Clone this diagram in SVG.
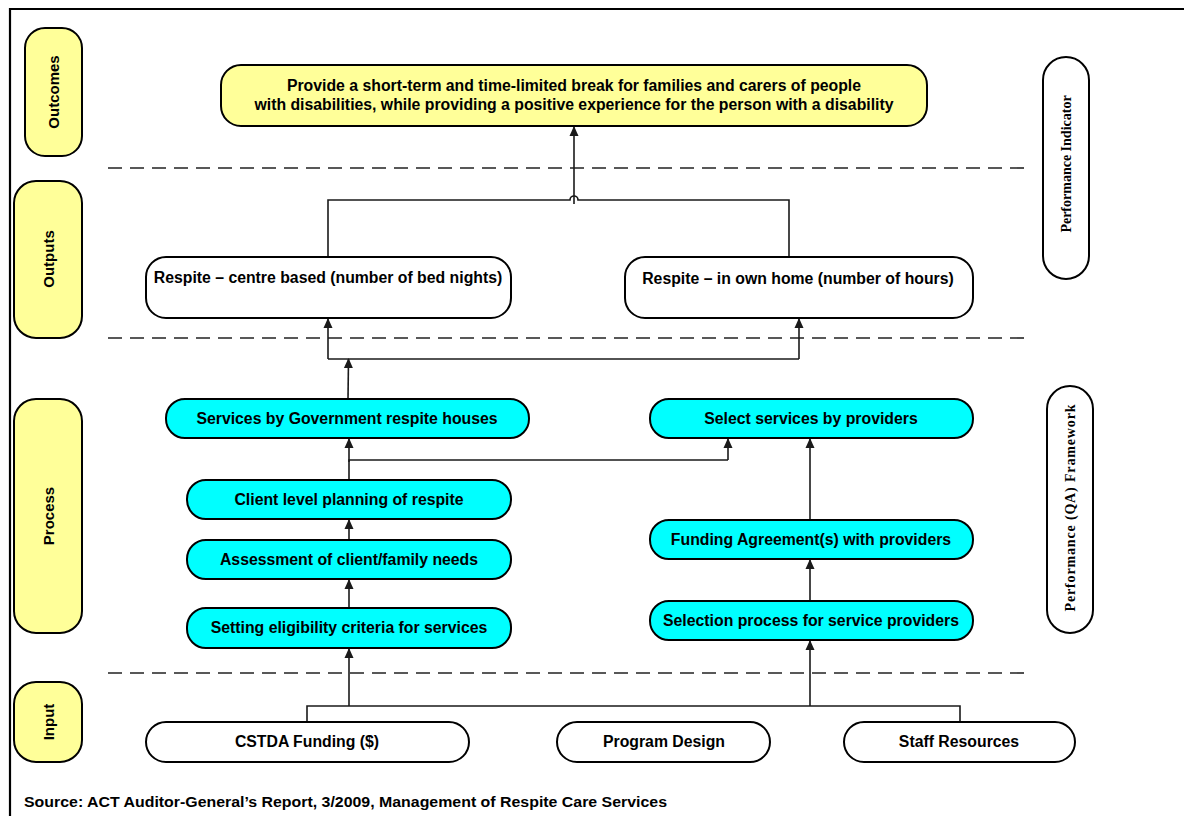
<svg xmlns="http://www.w3.org/2000/svg" width="1184" height="816" viewBox="0 0 1184 816">
<defs>
<marker id="ah" markerWidth="10" markerHeight="10" refX="9" refY="5" orient="auto" markerUnits="userSpaceOnUse">
<path d="M0,0.5 L10,5 L0,9.5 Z" fill="#1a1a1a"/>
</marker>
</defs>
<style>
.frame{stroke:#000;stroke-width:2.2;fill:none}
.lbl{fill:#ffff99;stroke:#000;stroke-width:2}
.yel{fill:#ffff99;stroke:#000;stroke-width:2}
.cy{fill:#00ffff;stroke:#000;stroke-width:2}
.wh{fill:#fff;stroke:#000;stroke-width:2}
.t{font-family:"Liberation Sans",Arial,sans-serif;font-weight:bold;font-size:15.8px;fill:#000;text-anchor:middle}
.tl{font-family:"Liberation Sans",Arial,sans-serif;font-weight:bold;font-size:15px;fill:#000;text-anchor:middle}
.ts{font-family:"Liberation Serif","Times New Roman",serif;font-weight:bold;font-size:14px;fill:#000;text-anchor:middle}
.dash{stroke:#222;stroke-width:1.6;stroke-dasharray:14 8;fill:none}
.c{stroke:#1a1a1a;stroke-width:1.6;fill:none}
.ca{stroke:#1a1a1a;stroke-width:1.6;fill:none;marker-end:url(#ah)}
</style>
<rect width="1184" height="816" fill="#fff"/>
<path class="frame" d="M10,816 L10,9 L1184,9"/>

<g id="dashes">
<line class="dash" x1="108" y1="168" x2="1025" y2="168"/>
<line class="dash" x1="108" y1="338" x2="1025" y2="338"/>
<line class="dash" x1="108" y1="673" x2="1025" y2="673"/>
</g>

<g id="lbl-outcomes"><rect class="lbl" x="25" y="28" width="57" height="128" rx="20"/><text class="tl" transform="translate(59,92) rotate(-90)">Outcomes</text></g>
<g id="lbl-outputs"><rect class="lbl" x="14" y="181" width="68" height="157" rx="22"/><text class="tl" transform="translate(54,259) rotate(-90)">Outputs</text></g>
<g id="lbl-process"><rect class="lbl" x="14" y="399" width="68" height="234" rx="22"/><text class="tl" transform="translate(54,516) rotate(-90)">Process</text></g>
<g id="lbl-input"><rect class="lbl" x="14" y="682" width="68" height="80" rx="22"/><text class="tl" transform="translate(54,722) rotate(-90)">Input</text></g>

<g id="lbl-pi"><rect class="wh" x="1043" y="57" width="46" height="222" rx="23"/><text class="ts" transform="translate(1071,164) rotate(-90)">Performance Indicator</text></g>
<g id="lbl-qa"><rect class="wh" x="1047" y="386" width="46" height="247" rx="23"/><text class="ts" transform="translate(1075,508) rotate(-90)" textLength="207" lengthAdjust="spacing">Performance (QA) Framework</text></g>

<g id="connectors">
<path class="c" d="M328,257 L328,200 L570,200 A4,4 0 0 1 578,200 L789,200 L789,257"/>
<path class="ca" d="M574,204 L574,127"/>
<path class="c" d="M328,359 L799,359"/>
<path class="ca" d="M328,359 L328,319"/>
<path class="ca" d="M799,359 L799,319"/>
<path class="ca" d="M348,399 L348.5,359"/>
<path class="c" d="M349,480 L349,460 L728,460"/>
<path class="ca" d="M349,462 L349,439"/>
<path class="ca" d="M728,460 L728,439"/>
<path class="ca" d="M349,540 L349,520"/>
<path class="ca" d="M349,608 L349,580"/>
<path class="ca" d="M349,706 L349,649"/>
<path class="ca" d="M810,520 L810,439"/>
<path class="ca" d="M810,601 L810,560"/>
<path class="ca" d="M810,706 L810,641"/>
<path class="c" d="M307,722 L307,706 L960,706 L960,722"/>
</g>

<g id="outcome"><rect class="yel" x="221" y="65" width="706" height="61" rx="20"/>
<text class="t" x="574" y="91">Provide a short-term and time-limited break for families and carers of people</text>
<text class="t" x="574" y="110">with disabilities, while providing a positive experience for the person with a disability</text></g>

<g id="out-centre"><rect class="wh" x="146" y="257" width="365" height="61" rx="20"/><text class="t" x="328" y="283">Respite – centre based (number of bed nights)</text></g>
<g id="out-home"><rect class="wh" x="625" y="257" width="348" height="61" rx="20"/><text class="t" x="798" y="284">Respite – in own home (number of hours)</text></g>

<g id="p-gov"><rect class="cy" x="166" y="399" width="363" height="39" rx="19"/><text class="t" x="347" y="424">Services by Government respite houses</text></g>
<g id="p-client"><rect class="cy" x="187" y="480" width="324" height="39" rx="19"/><text class="t" x="349" y="505">Client level planning of respite</text></g>
<g id="p-assess"><rect class="cy" x="187" y="540" width="324" height="39" rx="19"/><text class="t" x="349" y="565">Assessment of client/family needs</text></g>
<g id="p-elig"><rect class="cy" x="187" y="608" width="324" height="40" rx="19"/><text class="t" x="349" y="633">Setting eligibility criteria for services</text></g>
<g id="p-select"><rect class="cy" x="650" y="399" width="323" height="39" rx="19"/><text class="t" x="811" y="424">Select services by providers</text></g>
<g id="p-fund"><rect class="cy" x="650" y="520" width="323" height="39" rx="19"/><text class="t" x="811" y="545">Funding Agreement(s) with providers</text></g>
<g id="p-selproc"><rect class="cy" x="650" y="601" width="323" height="39" rx="19"/><text class="t" x="811" y="626">Selection process for service providers</text></g>

<g id="in-cstda"><rect class="wh" x="146" y="722" width="323" height="40" rx="20"/><text class="t" x="307" y="747">CSTDA Funding ($)</text></g>
<g id="in-design"><rect class="wh" x="557" y="722" width="213" height="40" rx="20"/><text class="t" x="664" y="747">Program Design</text></g>
<g id="in-staff"><rect class="wh" x="844" y="722" width="231" height="40" rx="20"/><text class="t" x="959" y="747">Staff Resources</text></g>

<text x="24" y="807" font-family="Liberation Sans,Arial,sans-serif" font-weight="bold" font-size="14.5" textLength="643" lengthAdjust="spacingAndGlyphs">Source: ACT Auditor-General’s Report, 3/2009, Management of Respite Care Services</text>
</svg>
